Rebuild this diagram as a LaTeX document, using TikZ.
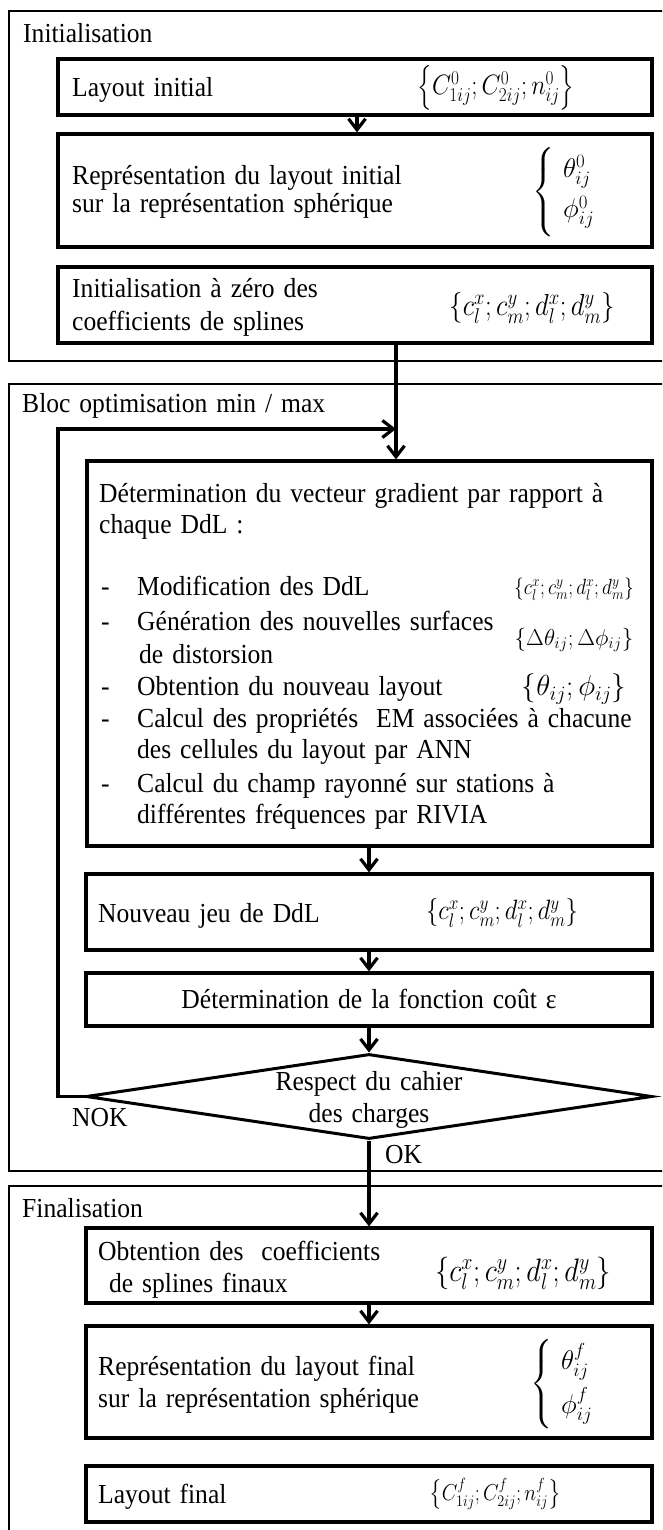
\RequirePackage{fix-cm}
\documentclass[tikz,border=0pt]{standalone}
\usepackage{amsmath}
\usepackage{fontspec}
\setmainfont[FakeStretch=0.93, WordSpace=1.4]{Liberation Serif}
\usetikzlibrary{arrows.meta,shapes.geometric,calc}
\newcommand{\fs}[1]{\fontsize{#1}{#1}\selectfont}
\newcommand{\mq}[1]{\scalebox{0.88}[1]{$#1$}}
\begin{document}
\begin{tikzpicture}[x=1pt,y=-1pt,
  box/.style={draw, line width=3.2pt, rectangle, inner sep=0pt, minimum width=566pt},
  frame/.style={draw, line width=2.8pt},
  arr/.style={line width=3.2pt, -{Straight Barb[length=11pt,width=17pt]}},
  txt/.style={anchor=base west, inner sep=0pt, font=\fs{27.5}},
  ctxt/.style={anchor=base, inner sep=0pt, font=\fs{27.5}},
  mth/.style={anchor=center, inner sep=0pt},
]
\clip (0,0) rectangle (662,1530);
\fill[white] (0,0) rectangle (662,1530);

% ---------- frames ----------
\draw[frame] (9,11) rectangle (690,361);
\draw[frame] (9,384) rectangle (690,1171);
\draw[frame] (9,1186) rectangle (690,1600);
\node[txt] (tInit) at (23,43) {Initialisation};
\node[txt] (tBloc) at (22,412) {Bloc optimisation min / max};
\node[txt] (tFin) at (22,1217) {Finalisation};

% ---------- helper x positions ----------
\coordinate (xa) at (357,0);
\coordinate (xb) at (396,0);
\coordinate (xc) at (369,0);
\coordinate (xl) at (58,0);

% ---------- Initialisation ----------
\node[box, minimum width=594pt, minimum height=56pt] (L0) at (355,87) {};
\node[txt] (L0t) at (72,97) {Layout initial};
\node[mth, font=\fs{28}] (L0m) at (496,88) {\mq{\left\{C^0_{1ij};C^0_{2ij};n^0_{ij}\right\}}};

\node[box, minimum width=594pt, minimum height=113pt] (R0) at (355,190.5) {};
\node[txt] (R0a) at (72,185) {Représentation du layout initial};
\node[txt] (R0b) at (72,213) {sur la représentation sphérique};
\node[mth, anchor=west, font=\fs{27}] (R0m) at (532,192) {$\Bigg\{\begin{array}{@{\ }l}\theta^0_{ij}\\[10pt]\phi^0_{ij}\end{array}$};

\node[box, minimum width=594pt, minimum height=76pt] (Z0) at (355,305) {};
\node[txt] (Z0a) at (72,297) {Initialisation à zéro des};
\node[txt] (Z0b) at (72,330) {coefficients de splines};
\node[mth, font=\fs{30.5}] (Z0m) at (532,308) {\mq{\{c^x_l;c^y_m;d^x_l;d^y_m\}}};

% ---------- Bloc optimisation ----------
\node[box, minimum width=565pt, minimum height=385pt] (G) at (369.5,653.5) {};
\node[txt] (G1) at (99,502) {Détermination du vecteur gradient par rapport à};
\node[txt] (G2) at (99,533) {chaque DdL :};
\node[txt] (Gd1) at (101,595) {-};
\node[txt] (G3) at (137,595) {Modification des DdL};
\node[mth, font=\fs{22}] (G3m) at (574,589) {\mq{\{c^x_l;c^y_m;d^x_l;d^y_m\}}};
\node[txt] (Gd2) at (101,630) {-};
\node[txt] (G4) at (137,630) {Génération des nouvelles surfaces};
\node[txt] (G5) at (139,663) {de distorsion};
\node[mth, font=\fs{23}] (G4m) at (574,640) {$\{\Delta\theta_{ij};\Delta\phi_{ij}\}$};
\node[txt] (Gd3) at (101,695) {-};
\node[txt] (G6) at (137,695) {Obtention du nouveau layout};
\node[mth, font=\fs{29}] (G6m) at (574,689) {$\{\theta_{ij};\phi_{ij}\}$};
\node[txt] (Gd4) at (101,727) {-};
\node[txt] (G7) at (137,727) {Calcul des propriétés\ \ EM associées à chacune};
\node[txt] (G8) at (137,758) {des cellules du layout par ANN};
\node[txt] (Gd5) at (101,792) {-};
\node[txt] (G9) at (137,792) {Calcul du champ rayonné sur stations à};
\node[txt] (G10) at (137,823) {différentes fréquences par RIVIA};

\node[box, minimum height=76pt] (N) at (369,912) {};
\node[txt] (Nt) at (98,922) {Nouveau jeu de DdL};
\node[mth, font=\fs{28}] (Nm) at (502,913) {\mq{\{c^x_l;c^y_m;d^x_l;d^y_m\}}};

\node[box, minimum height=53pt] (D) at (369,999.5) {};
\node[ctxt] (Dt) at (369,1008) {Détermination de la fonction coût ε};

\node[draw, diamond, line width=3pt, inner sep=0pt, minimum width=566pt, minimum height=85pt] (dia) at (369,1096.5) {};
\node[ctxt] (dia1) at (369,1090) {Respect du cahier};
\node[ctxt] (dia2) at (369,1122) {des charges};
\node[txt] (nok) at (72,1126) {NOK};
\node[txt] (ok) at (385,1163) {OK};

% ---------- Finalisation ----------
\node[box, minimum height=75pt] (O) at (369,1265.5) {};
\node[txt] (Oa) at (98,1260) {Obtention des\ \ coefficients};
\node[txt] (Ob) at (100,1292) {\ de splines finaux};
\node[mth, font=\fs{32.5}] (Om) at (523,1273) {\mq{\{c^x_l;c^y_m;d^x_l;d^y_m\}}};

\node[box, minimum height=112pt] (RF) at (369,1382) {};
\node[txt] (RFa) at (98,1375) {Représentation du layout final};
\node[txt] (RFb) at (98,1407) {sur la représentation sphérique};
\node[mth, anchor=west, font=\fs{27}] (RFm) at (530,1384) {$\Bigg\{\begin{array}{@{\ }l}\theta^f_{ij}\\[10pt]\phi^f_{ij}\end{array}$};

\node[box, minimum height=56pt] (LF) at (369,1494) {};
\node[txt] (LFt) at (98,1503) {Layout final};
\node[mth, font=\fs{23}] (LFm) at (495,1494) {\mq{\left\{C^f_{1ij};C^f_{2ij};n^f_{ij}\right\}}};

% ---------- connectors ----------
\draw[arr] (L0.south -| xa) -- (R0.north -| xa);
\draw[arr] (Z0.south -| xb) -- (G.north -| xb);
\coordinate (join) at (396,429);
\draw[arr] (dia.west) -| (xl |- dia.west) |- (join);
\draw[arr] (G.south -| xc) -- (N.north -| xc);
\draw[arr] (N.south -| xc) -- (D.north -| xc);
\draw[arr] (D.south -| xc) -- (dia.north);
\draw[arr] (dia.south) -- (O.north -| xc);
\draw[arr] (O.south -| xc) -- (RF.north -| xc);
\end{tikzpicture}
\end{document}
